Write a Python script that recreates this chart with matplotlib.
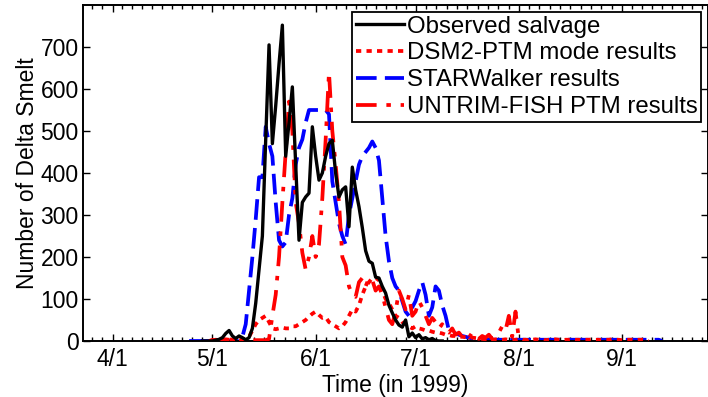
import numpy as np
import matplotlib
matplotlib.use("Agg")
import matplotlib.pyplot as plt
import matplotlib.dates as mdates

plt.rcParams['font.family'] = ['Liberation Sans', 'DejaVu Sans']

# ---- data (daily values) ----
obs_start = "1999-04-28"
obs_vals = [0, 0, 0, 0, 2, 4, 8, 18, 25, 12, 6, 12, 8, 3, 8, 30, 90, 170, 250, 480,
            705, 470, 560, 660, 752, 440, 520, 605, 420, 240, 330, 343, 352, 510, 440,
            383, 400, 440, 470, 478, 400, 343, 360, 367, 272, 414, 360, 320, 270, 215,
            190, 185, 152, 150, 130, 114, 85, 67, 50, 38, 33, 50, 10, 19, 8, 15, 5, 8,
            3, 6, 1, 0, 0]

dsm2_start = "1999-04-30"
dsm2_vals = [0, 2, 3, 4, 3, 5, 4, 3, 2, 2, 3, 5, 10, 25, 40, 50, 55, 60, 45, 30,
             28, 30, 32, 30, 30, 35, 35, 40, 45, 50, 58, 65, 70, 62, 55, 57, 45, 40,
             35, 30, 35, 45, 60, 75, 70, 85, 110, 130, 140, 150, 150, 145, 120, 100,
             90, 75, 60, 55, 45, 40, 35, 30, 35, 30, 28, 25, 25, 22, 20, 20, 18, 15,
             14, 12, 12, 10, 10, 9, 8, 8, 7, 6, 5, 4, 5, 3, 4, 3, 3, 4, 3, 2, 3, 4,
             3, 3, 2, 3, 4, 3, 3, 2, 3, 3, 4, 3, 2, 3, 3, 4, 3, 3, 2, 3, 3, 4, 3, 3,
             2, 3, 3, 4, 3, 3, 2, 3, 3, 3, 2, 3, 3, 2, 0]

star_start = "1999-04-24"
star_vals = [0, 0, 0, 0, 0, 0, 0, 0, 0, 0, 0, 0, 0, 0, 0, 0, 10, 40, 120, 200,
             290, 390, 390, 510, 470, 440, 330, 240, 225, 235, 300, 340, 420, 460,
             480, 520, 550, 550, 550, 550, 550, 550, 540, 380, 330, 280, 250, 230,
             300, 340, 380, 420, 440, 450, 460, 475, 460, 430, 340, 250, 190, 150,
             130, 120, 95, 70, 60, 80, 95, 120, 140, 110, 60, 80, 130, 120, 85, 60,
             25, 20, 18, 15, 12, 10, 8, 6, 5, 4, 3, 3, 3, 3, 3, 3, 3, 3, 3, 3, 3, 3,
             3, 3, 3, 3, 3, 3, 3, 3, 3, 3, 3, 3, 3, 3, 3, 3, 3, 3, 3, 3, 3, 3, 3, 3,
             3, 3, 3, 3, 3, 3, 3, 3, 3, 3, 3, 3, 3, 3, 3, 3, 3, 3, 0]

untrim_start = "1999-04-30"
untrim_vals = [0, 2, 3, 2, 3, 4, 3, 2, 3, 2, 2, 3, 2, 2, 2, 2, 2, 2, 5, 60,
               110, 200, 330, 450, 570, 500, 330, 280, 210, 170, 200, 250, 200, 230,
               340, 480, 640, 500, 420, 330, 200, 180, 130, 110, 105, 140, 150, 130,
               150, 145, 120, 130, 110, 80, 50, 40, 70, 120, 100, 75, 110, 60, 70, 95,
               80, 60, 40, 55, 45, 30, 40, 25, 20, 30, 15, 20, 10, 15, 8, 20, 10, 5,
               12, 8, 15, 5, 10, 20, 35, 25, 60, 10, 70, 5, 0, 0, 0]

labels = ["Observed salvage", "DSM2-PTM mode results",
          "STARWalker results", "UNTRIM-FISH PTM results"]
month_starts = ["1999-03-01", "1999-04-01", "1999-05-01", "1999-06-01",
                "1999-07-01", "1999-08-01", "1999-09-01", "1999-10-01"]
major_ticks = ["1999-04-01", "1999-05-01", "1999-06-01",
               "1999-07-01", "1999-08-01", "1999-09-01"]
tick_labels = ["4/1", "5/1", "6/1", "7/1", "8/1", "9/1"]


def daily(start, vals):
    d0 = np.datetime64(start)
    return d0 + np.arange(len(vals)).astype('timedelta64[D]'), np.array(vals, float)


fig = plt.figure(figsize=(7.08, 3.97), dpi=100)
ax = fig.add_axes([83/708, 56/397, 625/708, 336/397])

x, y = daily(obs_start, obs_vals)
l_obs, = ax.plot(x, y, color='black', lw=2.4, zorder=5)
x, y = daily(dsm2_start, dsm2_vals)
l_dsm, = ax.plot(x, y, color='#ff0000', lw=2.7, ls=(0, (1.4, 1.4)), zorder=3)
x, y = daily(star_start, star_vals)
l_star, = ax.plot(x, y, color='#0000ff', lw=2.7, ls=(0, (5.5, 2.2)), zorder=2)
x, y = daily(untrim_start, untrim_vals)
l_unt, = ax.plot(x, y, color='#ff0000', lw=2.7, ls=(0, (5.5, 2.6, 1.2, 2.6)), zorder=4)

ms = [mdates.date2num(np.datetime64(t)) for t in month_starts]
minors = []
for a, b in zip(ms[:-1], ms[1:]):
    for k in range(1, 10):
        minors.append(a + (b - a) * k / 10)
ax.set_xticks([mdates.date2num(np.datetime64(t)) for t in major_ticks])
ax.set_xticklabels(tick_labels)
ax.set_xticks(minors, minor=True)
ax.set_yticks(range(0, 800, 100))

apr1 = mdates.date2num(np.datetime64("1999-04-01"))
ax.set_xlim(apr1 - 8.86, apr1 + 178.8)
ax.set_ylim(0, 800)

ax.tick_params(axis='both', which='major', direction='in', length=5, width=1.0,
               top=True, right=True, labelsize=16.5, pad=3, colors='black')
ax.tick_params(axis='x', which='major', pad=5)
ax.tick_params(axis='both', which='minor', direction='in', length=3, width=1.0,
               top=True, right=True)
for s in ax.spines.values():
    s.set_linewidth(1.4)

ax.set_xlabel("Time (in 1999)", fontsize=16.5, labelpad=2)
ax.set_ylabel("Number of Delta Smelt", fontsize=16.5, labelpad=1)

leg = ax.legend([l_obs, l_dsm, l_star, l_unt], labels, loc='upper right',
                bbox_to_anchor=(701/708, 1 - 12/397), bbox_transform=fig.transFigure,
                fontsize=17.3, frameon=True, fancybox=False, framealpha=1,
                edgecolor='black', borderpad=0.15, labelspacing=0.2,
                handlelength=2.0, handletextpad=0.12, borderaxespad=0)
leg.get_frame().set_linewidth(1.3)

fig.savefig("out.png", dpi=100)
